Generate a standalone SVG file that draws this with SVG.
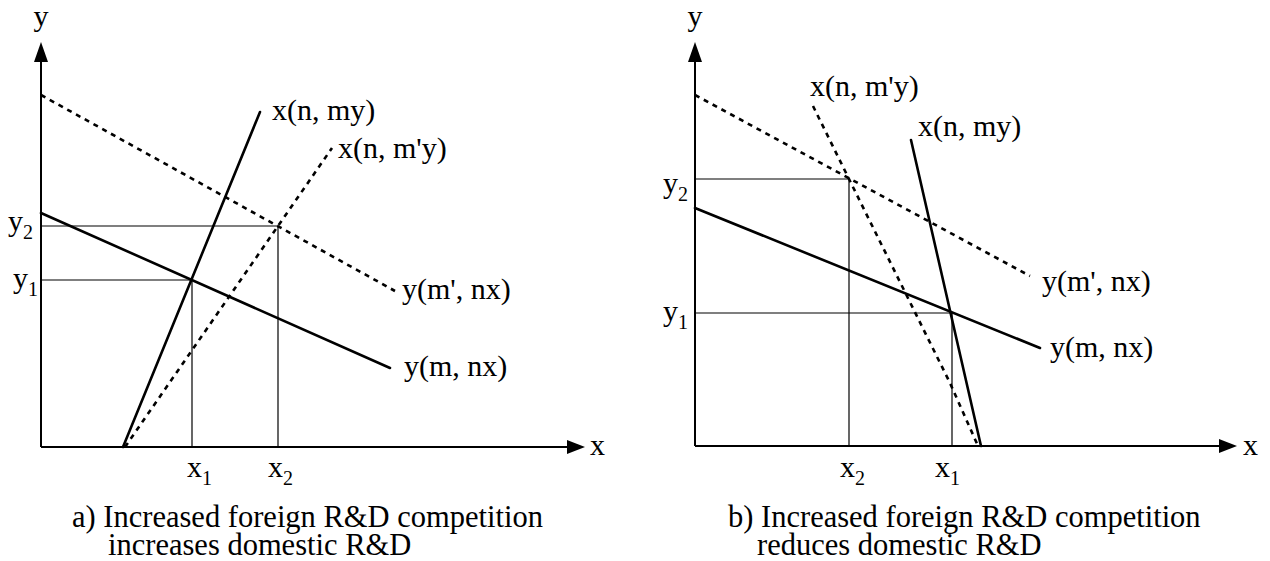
<svg xmlns="http://www.w3.org/2000/svg" width="1270" height="561" viewBox="0 0 1270 561">
<style>
  text { font-family: "Liberation Serif", "Times New Roman", serif; fill: #000; }
  .lbl { font-size: 30px; }
  .cap { font-size: 30.5px; }
  .sub { font-size: 20px; }
  .axis { stroke: #000; stroke-width: 2; fill: none; }
  .solid { stroke: #000; stroke-width: 2.6; fill: none; stroke-linecap: round; stroke-linejoin: round; }
  .dot { stroke: #000; stroke-width: 2.6; fill: none; stroke-dasharray: 5 5; }
  .thin { stroke: #000; stroke-width: 1.2; fill: none; }
  .head { fill: #000; stroke: none; }
</style>
<rect width="1270" height="561" fill="#fff"/>

<!-- Panel a -->
<g id="panel-a">
  <g id="axes-a">
    <line class="axis" x1="41" y1="60" x2="41" y2="447"/>
    <line class="axis" x1="41" y1="447" x2="570" y2="447"/>
    <polygon class="head" points="41,42 34,62 48,62"/>
    <polygon class="head" points="585,447 567,440 567,454"/>
    <text class="lbl" x="41" y="26" text-anchor="middle">y</text>
    <text class="lbl" x="590" y="455">x</text>
  </g>
  <g id="connectors-a">
    <line class="thin" x1="41" y1="280" x2="192" y2="280"/>
    <line class="thin" x1="192" y1="280" x2="192" y2="447"/>
    <line class="thin" x1="41" y1="226" x2="278" y2="226"/>
    <line class="thin" x1="278" y1="226" x2="278" y2="447"/>
    <line class="solid" x1="123" y1="447" x2="260" y2="112"/>
    <line class="dot" x1="125" y1="447" x2="332" y2="148"/>
    <line class="solid" x1="41" y1="213" x2="390" y2="368"/>
    <line class="dot" x1="41" y1="95" x2="395" y2="291"/>
  </g>
  <g id="labels-a">
    <text class="lbl" x="272" y="120">x(n, my)</text>
    <text class="lbl" x="338" y="158">x(n, m'y)</text>
    <text class="lbl" x="402" y="299">y(m', nx)</text>
    <text class="lbl" x="404" y="376">y(m, nx)</text>
    <text class="lbl" x="8" y="231">y<tspan class="sub" dy="8">2</tspan></text>
    <text class="lbl" x="13" y="288">y<tspan class="sub" dy="8">1</tspan></text>
    <text class="lbl" x="187" y="477">x<tspan class="sub" dy="8">1</tspan></text>
    <text class="lbl" x="268" y="477">x<tspan class="sub" dy="8">2</tspan></text>
  </g>
  <g id="caption-a">
    <text class="cap" x="72" y="527">a) Increased foreign R&amp;D competition</text>
    <text class="cap" x="108" y="555">increases domestic R&amp;D</text>
  </g>
</g>

<!-- Panel b -->
<g id="panel-b">
  <g id="axes-b">
    <line class="axis" x1="695" y1="60" x2="695" y2="446"/>
    <line class="axis" x1="695" y1="446" x2="1222" y2="446"/>
    <polygon class="head" points="695,42 688,62 702,62"/>
    <polygon class="head" points="1237,446 1219,439 1219,453"/>
    <text class="lbl" x="695" y="26" text-anchor="middle">y</text>
    <text class="lbl" x="1243" y="455">x</text>
  </g>
  <g id="connectors-b">
    <line class="thin" x1="695" y1="313" x2="952" y2="313"/>
    <line class="thin" x1="952" y1="313" x2="952" y2="446"/>
    <line class="thin" x1="695" y1="179" x2="849" y2="179"/>
    <line class="thin" x1="849" y1="179" x2="849" y2="446"/>
    <line class="solid" x1="695" y1="208" x2="1040" y2="348"/>
    <line class="dot" x1="695" y1="95" x2="1030" y2="276"/>
    <line class="solid" x1="911" y1="140" x2="981" y2="446"/>
    <polyline class="dot" points="813,106 849,179 950,383 978,446"/>
  </g>
  <g id="labels-b">
    <text class="lbl" x="810" y="96">x(n, m'y)</text>
    <text class="lbl" x="918" y="136">x(n, my)</text>
    <text class="lbl" x="1042" y="291">y(m', nx)</text>
    <text class="lbl" x="1050" y="357">y(m, nx)</text>
    <text class="lbl" x="663" y="193">y<tspan class="sub" dy="8">2</tspan></text>
    <text class="lbl" x="663" y="321">y<tspan class="sub" dy="8">1</tspan></text>
    <text class="lbl" x="840" y="477">x<tspan class="sub" dy="8">2</tspan></text>
    <text class="lbl" x="935" y="477">x<tspan class="sub" dy="8">1</tspan></text>
  </g>
  <g id="caption-b">
    <text class="cap" x="728" y="527">b) Increased foreign R&amp;D competition</text>
    <text class="cap" x="757" y="555">reduces domestic R&amp;D</text>
  </g>
</g>
</svg>
